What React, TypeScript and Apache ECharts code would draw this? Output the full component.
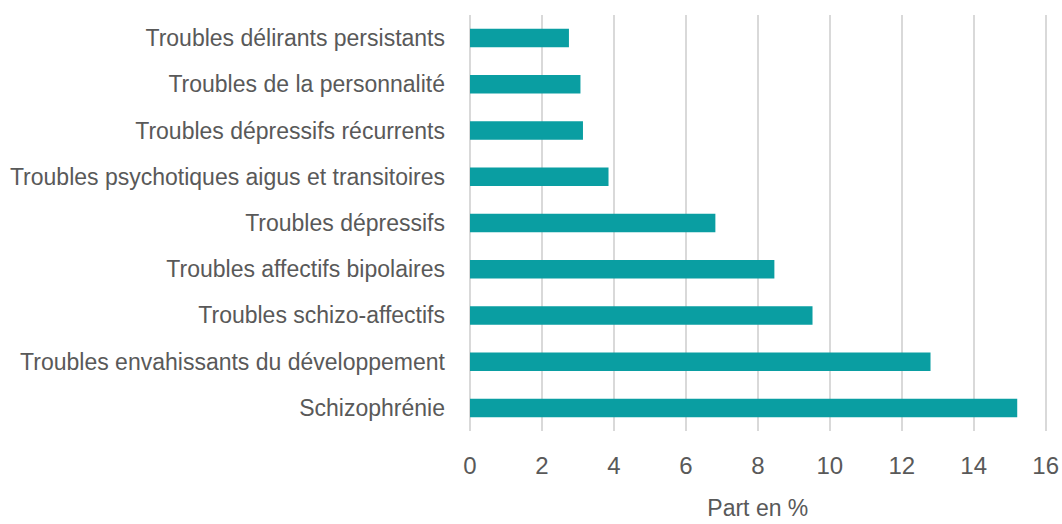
import React, { useEffect, useRef } from "react";
import * as echarts from "echarts";

const categories = [
  "Troubles délirants persistants",
  "Troubles de la personnalité",
  "Troubles dépressifs récurrents",
  "Troubles psychotiques aigus et transitoires",
  "Troubles dépressifs",
  "Troubles affectifs bipolaires",
  "Troubles schizo-affectifs",
  "Troubles envahissants du développement",
  "Schizophrénie",
];
const values = [2.75, 3.07, 3.14, 3.85, 6.82, 8.46, 9.52, 12.8, 15.21];
const xTicks = { min: 0, max: 16, interval: 2 };
const xName = "Part en %";

const FONT = "'Liberation Sans Narrow', 'Arial Narrow', 'Liberation Sans', sans-serif";

export default function App() {
  const ref = useRef<HTMLDivElement>(null);
  useEffect(() => {
    const chart = echarts.init(ref.current!, null, { renderer: "svg" });
    chart.setOption({
      animation: false,
      grid: { left: 470, right: 16, top: 15, bottom: 84, containLabel: false },
      xAxis: {
        type: "value",
        min: xTicks.min,
        max: xTicks.max,
        interval: xTicks.interval,
        name: xName,
        nameLocation: "middle",
        nameGap: 65,
        nameTextStyle: { color: "#595959", fontSize: 23, fontFamily: FONT },
        axisLine: { show: false },
        axisTick: { show: false },
        axisLabel: { color: "#595959", fontSize: 24, fontFamily: FONT, margin: 22 },
        splitLine: { show: true, lineStyle: { color: "#d9d9d9", width: 2 } },
      },
      yAxis: {
        type: "category",
        data: categories,
        inverse: true,
        axisLine: { show: false },
        axisTick: { show: false },
        axisLabel: { color: "#595959", fontSize: 23, fontFamily: FONT, margin: 25 },
      },
      series: [
        {
          type: "bar",
          data: values,
          barWidth: "40%",
          itemStyle: { color: "#0a9ea2" },
        },
      ],
    });
    return () => chart.dispose();
  }, []);
  return (
    <div
      ref={ref}
      style={{ position: "fixed", left: 0, top: 0, width: 1062, height: 524, background: "#fff" }}
    />
  );
}
